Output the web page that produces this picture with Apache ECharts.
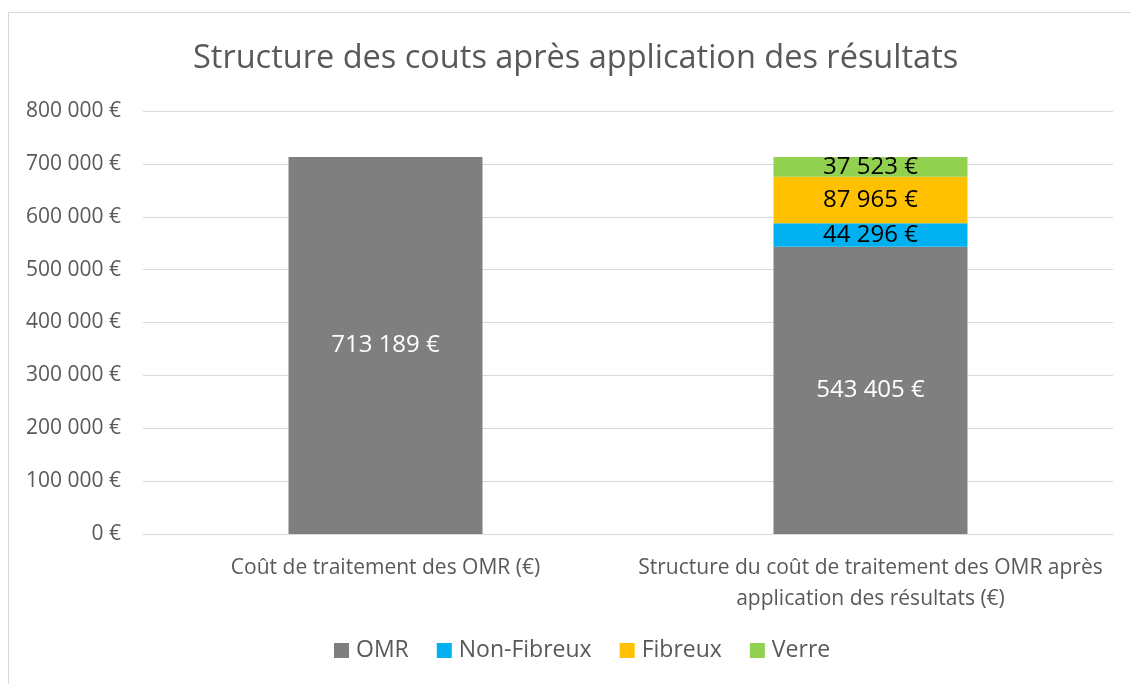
<!DOCTYPE html>
<html><head><meta charset="utf-8">
<script src="https://cdn.jsdelivr.net/npm/echarts@6/dist/echarts.min.js"></script>
<style>html,body{margin:0;padding:0;background:#fff}#c{width:1131px;height:684px}</style>
</head><body><div id="c"></div>
<script>
const categories = ["Coût de traitement des OMR (€)", "Structure du coût de traitement des OMR après\napplication des résultats (€)"];
const omr = [713189, 543405];
const nonFibreux = [null, 44296];
const fibreux = [null, 87965];
const verre = [null, 37523];
const seriesNames = ["OMR", "Non-Fibreux", "Fibreux", "Verre"];
const colors = ["#7f7f7f", "#00b0f0", "#ffc000", "#92d050"];

function fmt(v){ return String(Math.round(v)).replace(/\B(?=(\d{3})+(?!\d))/g, ' ') + ' €'; }
const FONT = 'Open Sans';
const chart = echarts.init(document.getElementById('c'), null, {renderer:'canvas'});
const mk = (name, data, color, labelColor) => ({
  name, type:'bar', stack:'s', data, barWidth:'40%',
  itemStyle:{color},
  label:{show:true, position:'inside', color:labelColor, fontSize:24, fontFamily:FONT,
    formatter:p=>p.value==null?'':fmt(p.value)}
});
chart.setOption({
  animation:false,
  textStyle:{fontFamily:FONT},
  graphic:[{type:'rect', shape:{x:8.5,y:12.5,width:1140,height:700}, style:{fill:'none', stroke:'#d9d9d9', lineWidth:1}}],
  title:{text:'Structure des couts après application des résultats', left:188, top:37,
    textStyle:{fontSize:32.5, fontWeight:'normal', color:'#595959', fontFamily:FONT}},
  grid:{left:143, right:18, top:111, bottom:150},
  legend:{data:seriesNames, bottom:17, left:329, itemWidth:15, itemHeight:15, itemGap:28,
    icon:'rect', textStyle:{fontSize:23, color:'#595959', fontFamily:FONT, padding:[0,0,0,2]}},
  xAxis:{type:'category', data:categories,
    axisLine:{lineStyle:{color:'#d9d9d9'}}, axisTick:{show:false},
    axisLabel:{interval:0, fontSize:21, color:'#595959', fontFamily:FONT, margin:19, lineHeight:31}},
  yAxis:{type:'value', min:0, max:800000, interval:100000,
    axisLine:{show:false}, axisTick:{show:false},
    splitLine:{lineStyle:{color:'#d9d9d9'}},
    axisLabel:{fontSize:21, color:'#595959', fontFamily:FONT, margin:22, formatter:fmt}},
  series:[
    mk(seriesNames[0], omr, colors[0], '#ffffff'),
    mk(seriesNames[1], nonFibreux, colors[1], '#000000'),
    mk(seriesNames[2], fibreux, colors[2], '#000000'),
    mk(seriesNames[3], verre, colors[3], '#000000')
  ]
});
</script></body></html>
